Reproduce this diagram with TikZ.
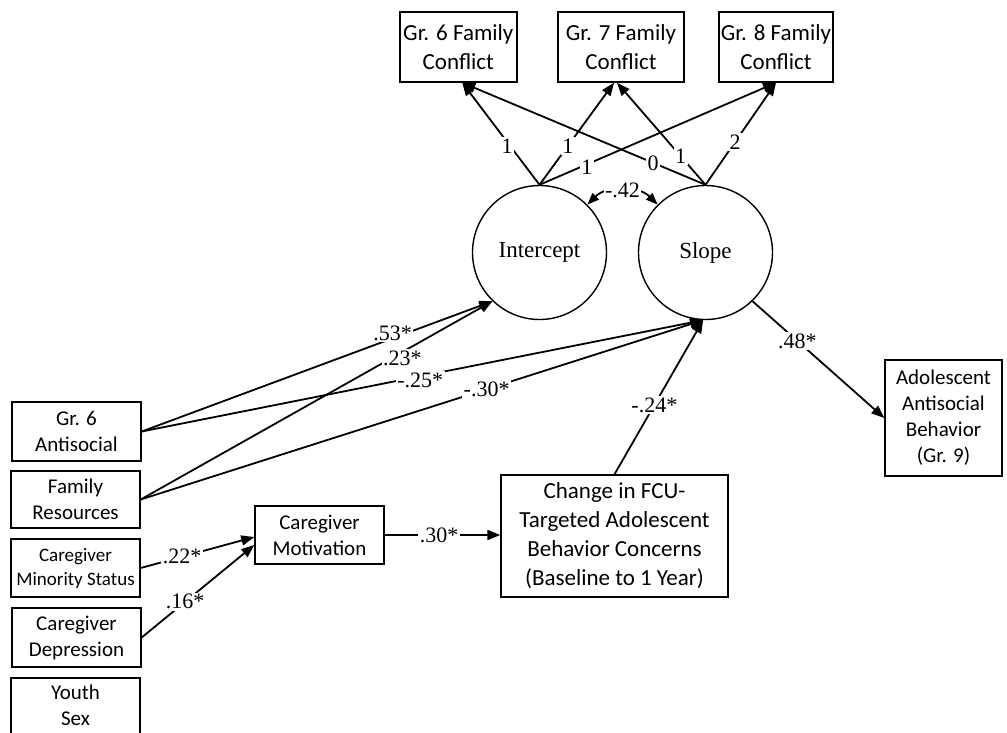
\documentclass[tikz,border=0pt]{standalone}
\usepackage{fontspec}
\setmainfont{Liberation Serif}
\newfontfamily\boxfont{Carlito}
\usetikzlibrary{arrows.meta,calc}
\begin{document}
\begin{tikzpicture}[x=1pt,y=-1pt,
  box/.style={draw, line width=1.4pt, inner sep=0pt, align=center, font=\boxfont\fontsize{21}{26}\selectfont},
  bigbox/.style={box, font=\boxfont\fontsize{23}{29}\selectfont},
  latent/.style={draw, circle, line width=1.4pt, minimum size=134pt, inner sep=0pt, font=\fontsize{23}{27}\selectfont},
  arr/.style={line width=1.8pt, -{Triangle[length=13pt,width=10pt]}},
  dblarr/.style={line width=1.8pt, {Triangle[length=12pt,width=9pt]}-{Triangle[length=12pt,width=9pt]}},
  lbl/.style={fill=white, inner sep=1.5pt, font=\fontsize{22}{26}\selectfont}
]
\useasboundingbox (0,0) rectangle (1007,732);
\clip (0,0) rectangle (1007,732);
\fill[white] (0,0) rectangle (1007,732);

% indicators
\node[bigbox, minimum width=117pt, minimum height=70pt] (g6) at (458.3,47) {Gr. 6 Family\\Conflict};
\node[bigbox, minimum width=126pt, minimum height=70pt] (g7) at (621,47) {Gr. 7 Family\\Conflict};
\node[bigbox, minimum width=114pt, minimum height=70pt] (g8) at (776,47) {Gr. 8 Family\\Conflict};

% latent growth factors
\node[latent] (int) at (539.5,252.5) {Intercept};
\node[latent] (slo) at (705.5,252.5) {Slope};

% predictors
\node[box, minimum width=129pt, minimum height=59pt] (ga) at (76.5,431.5) {Gr. 6\\Antisocial};
\node[box, minimum width=129pt, minimum height=57pt] (fr) at (75.5,499.5) {Family\\Resources};
\node[box, minimum width=129pt, minimum height=58pt, font=\boxfont\fontsize{19}{24}\selectfont] (cms) at (75.5,568) {Caregiver\\Minority Status};
\node[box, minimum width=129pt, minimum height=59pt] (cd) at (76.5,637.5) {Caregiver\\Depression};
\draw[line width=1.4pt] (11,678) rectangle (140,780);
\node[align=center, inner sep=0pt, font=\boxfont\fontsize{21}{26}\selectfont] (ys) at (75.5,705) {Youth\\Sex};

\node[box, minimum width=129pt, minimum height=58pt] (cm) at (319.5,535) {Caregiver\\Motivation};
\node[bigbox, minimum width=227pt, minimum height=122pt] (chg) at (614.5,536) {Change in FCU-\\Targeted Adolescent\\Behavior Concerns\\(Baseline to 1 Year)};
\node[box, minimum width=117pt, minimum height=116pt] (ado) at (943.5,418) {Adolescent\\Antisocial\\Behavior\\(Gr. 9)};

% loadings
\draw[arr] (int.north) -- node[lbl,pos=0.42,yshift=-4pt]{1} ($(g6.south)+(4,0)$);
\draw[arr] (int.north) -- node[lbl,pos=0.38]{1} ($(g7.south)+(-7,0)$);
\draw[arr] (slo.north) -- node[lbl,pos=0.215]{0} ($(g6.south)+(4,0)$);
\draw[arr] (int.north) -- node[lbl,pos=0.2,yshift=-3pt]{1} (g8.south);
\draw[arr] (slo.north) -- node[lbl,pos=0.28]{1} ($(g7.south)+(-4,0)$);
\draw[arr] (slo.north) -- node[lbl,pos=0.42]{2} (g8.south);

% covariance
\draw[dblarr] (int.45) to[bend left=45] node[lbl]{-.42} (slo.135);

% predictor paths
\draw[arr] (ga.east) -- node[lbl,pos=0.496,yshift=-4pt]{-.25*} (slo.268);
\draw[arr] (fr.east) -- node[lbl,pos=0.615]{-.30*} (slo.268);
\draw[arr] (fr.east) -- node[lbl,pos=0.744,yshift=-6pt]{.23*} (int.226);
\draw[arr] (ga.east) -- node[lbl,pos=0.715,yshift=5pt]{.53*} (int.226);

\draw[arr] (cms.east) -- node[lbl,pos=0.365]{.22*} ($(cm.west)+(0,2)$);
\draw[arr] (cd.east) -- node[lbl,pos=0.386]{.16*} ($(cm.west)+(0,10)$);
\draw[arr] (cm.east) -- node[lbl,pos=0.47]{.30*} (cm.east -| chg.west);
\draw[arr] (chg.north) -- node[lbl,pos=0.45]{-.24*} (slo.268);
\draw[arr] (slo.-46) -- node[lbl,pos=0.34]{.48*} (ado.west);
\end{tikzpicture}
\end{document}
